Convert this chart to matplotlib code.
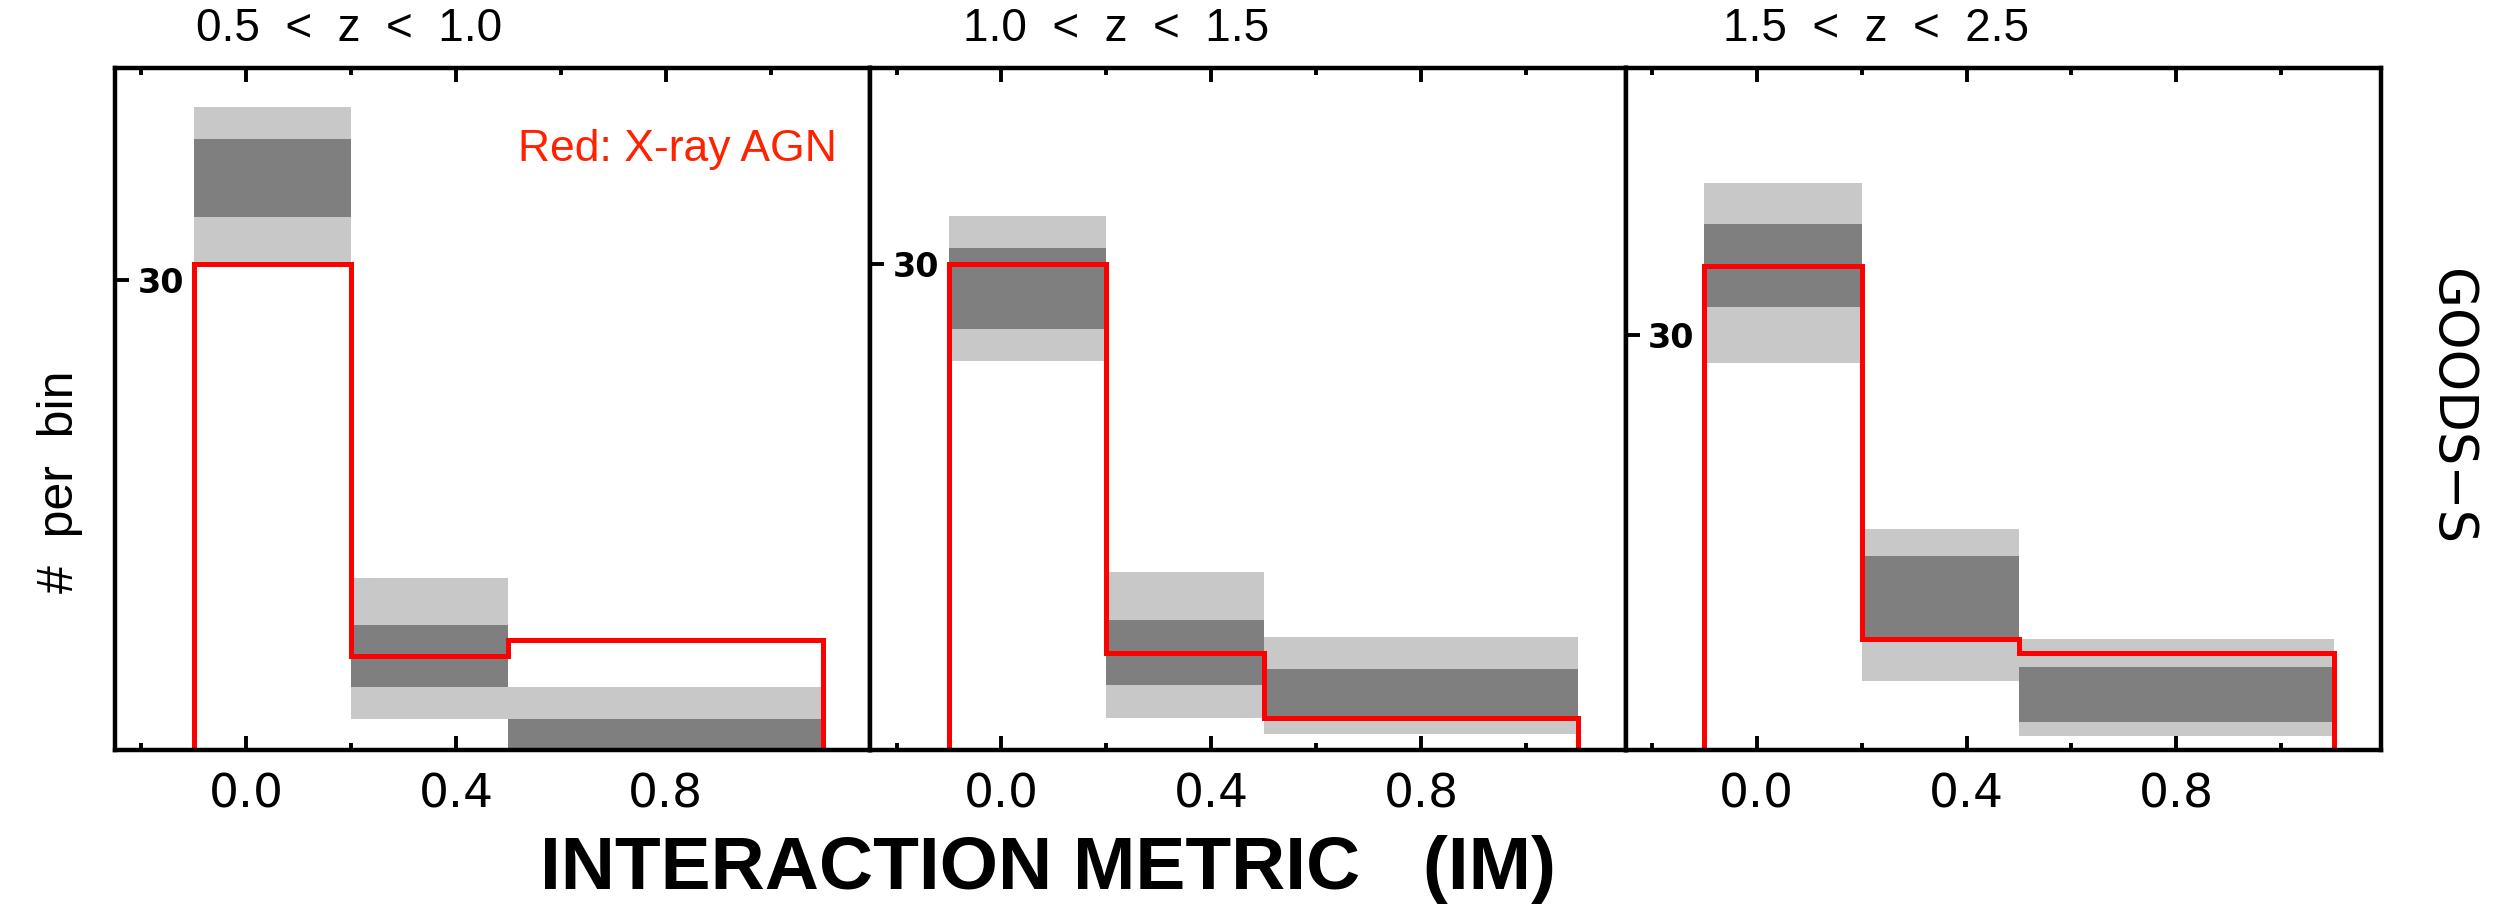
import matplotlib
matplotlib.use("Agg")
import matplotlib.pyplot as plt
import numpy as np

# bin edges in interaction metric
edges = [-0.1, 0.2, 0.5, 1.1]

titles = ["0.5  <  z  <  1.0", "1.0  <  z  <  1.5", "1.5  <  z  <  2.5"]

# red: X-ray AGN counts per bin
red_counts = [[31, 6, 7], [30, 6, 2], [35, 8, 7]]

# grey bands (control sample): outer (light) and inner (dark) ranges
light_hi = [[41, 11, 4], [33, 11, 7], [41, 16, 8]]
dark_hi = [[39, 8, 2], [31, 8, 5], [38, 14, 6]]
dark_lo = [[34, 4, 0], [26, 4, 2], [32, 8, 2]]
light_lo = [[31, 2, 0], [24, 2, 1], [28, 5, 1]]

ymax = [43.5, 42.1, 49.3]
title_x = [0.31, 0.325, 0.332]

light_grey = "#c8c8c8"
dark_grey = "#7f7f7f"

lib = ["Liberation Sans", "DejaVu Sans"]
plt.rcParams["font.family"] = ["DejaVu Sans"]

fig = plt.figure(figsize=(12.505, 4.545), dpi=200)
axes = fig.subplots(1, 3)
fig.subplots_adjust(left=0.046, right=0.952, bottom=0.175, top=0.925, wspace=0)

widths = np.diff(edges)
lefts = np.array(edges[:-1])

for i, ax in enumerate(axes):
    lh = np.array(light_hi[i]); ll = np.array(light_lo[i])
    dh = np.array(dark_hi[i]); dl = np.array(dark_lo[i])
    ax.bar(lefts, lh - ll, bottom=ll, width=widths, align="edge",
           color=light_grey, linewidth=0, zorder=1)
    ax.bar(lefts, dh - dl, bottom=dl, width=widths, align="edge",
           color=dark_grey, linewidth=0, zorder=2)
    ax.stairs(red_counts[i], edges, baseline=0, fill=False,
              color="#ff0000", linewidth=1.8, zorder=3)

    ax.set_xlim(-0.25, 1.19)
    ax.set_ylim(0, ymax[i])

    ax.set_xticks([0.0, 0.4, 0.8])
    ax.set_xticklabels(["0.0", "0.4", "0.8"])
    ax.set_xticks([-0.2, 0.2, 0.6, 1.0], minor=True)
    ax.tick_params(axis="x", which="major", direction="in", top=True,
                   length=5, width=1.4, labelsize=17, pad=8)
    ax.tick_params(axis="x", which="minor", direction="in", top=True,
                   length=2.5, width=1.4)

    ax.set_yticks([30])
    ax.set_yticklabels(["30"])
    ax.tick_params(axis="y", which="major", direction="in", length=5,
                   width=1.4, labelsize=12, pad=-8)
    for lbl in ax.get_yticklabels():
        lbl.set_horizontalalignment("left")
        lbl.set_fontweight("bold")

    for sp in ax.spines.values():
        sp.set_linewidth(1.6)
        sp.set_zorder(5)

    ax.text(title_x[i], 1.057, titles[i], transform=ax.transAxes,
            ha="center", va="center", fontsize=16.5, family=lib)

axes[0].text(0.956, 0.88, "Red: X-ray AGN", transform=axes[0].transAxes,
             ha="right", va="center", fontsize=16, color="#ff2200",
             family=lib)

fig.text(0.419, 0.044, "INTERACTION METRIC   (IM)", ha="center", va="center",
         fontsize=27, fontweight="bold", family=lib)
fig.text(0.024, 0.47, "#  per  bin", ha="center", va="center",
         rotation=90, fontsize=18, family=lib)
fig.text(0.980, 0.552, "GOODS\u2212S", ha="center", va="center",
         rotation=-90, fontsize=19)

fig.savefig("out.png", dpi=200)
